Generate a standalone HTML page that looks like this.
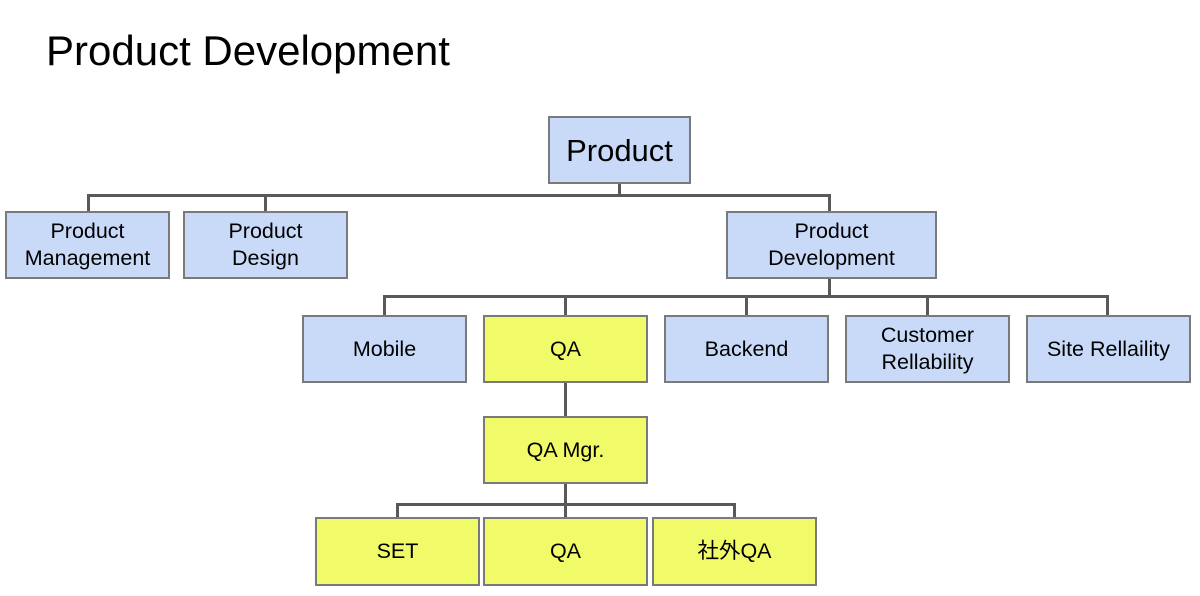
<!DOCTYPE html>
<html><head><meta charset="utf-8"><style>
body{margin:0;width:1200px;height:596px;background:#fff;position:relative;overflow:hidden;font-family:"Liberation Sans","Noto Sans CJK JP",sans-serif;}
.t{position:absolute;left:46px;top:27px;font-size:42px;color:#000;}
.b{position:absolute;box-sizing:border-box;border:2px solid #7a7a7a;display:flex;align-items:center;justify-content:center;text-align:center;font-size:21.5px;line-height:27px;color:#000;}
.bl{background:#c9daf8}.y{background:#f1fa68}
.l{position:absolute;background:#595959}
</style></head><body>
<div class="t">Product Development</div>
<div class="l" style="left:87px;top:194px;width:744px;height:3px"></div>
<div class="l" style="left:618px;top:183px;width:3px;height:12px"></div>
<div class="l" style="left:87px;top:194px;width:3px;height:17px"></div>
<div class="l" style="left:264px;top:194px;width:3px;height:17px"></div>
<div class="l" style="left:828px;top:194px;width:3px;height:17px"></div>
<div class="l" style="left:383px;top:295px;width:726px;height:3px"></div>
<div class="l" style="left:828px;top:278px;width:3px;height:18px"></div>
<div class="l" style="left:383px;top:295px;width:3px;height:20px"></div>
<div class="l" style="left:564px;top:295px;width:3px;height:20px"></div>
<div class="l" style="left:745px;top:295px;width:3px;height:20px"></div>
<div class="l" style="left:926px;top:295px;width:3px;height:20px"></div>
<div class="l" style="left:1106px;top:295px;width:3px;height:20px"></div>
<div class="l" style="left:564px;top:382px;width:3px;height:135px"></div>
<div class="l" style="left:396px;top:503px;width:340px;height:3px"></div>
<div class="l" style="left:396px;top:503px;width:3px;height:14px"></div>
<div class="l" style="left:733px;top:503px;width:3px;height:14px"></div>

<div class="b bl" style="left:548px;top:116px;width:143px;height:68px;font-size:31px">Product</div>
<div class="b bl" style="left:5px;top:211px;width:165px;height:68px">Product<br>Management</div>
<div class="b bl" style="left:183px;top:211px;width:165px;height:68px">Product<br>Design</div>
<div class="b bl" style="left:726px;top:211px;width:211px;height:68px">Product<br>Development</div>
<div class="b bl" style="left:302px;top:315px;width:165px;height:68px">Mobile</div>
<div class="b y" style="left:483px;top:315px;width:165px;height:68px">QA</div>
<div class="b bl" style="left:664px;top:315px;width:165px;height:68px">Backend</div>
<div class="b bl" style="left:845px;top:315px;width:165px;height:68px">Customer<br>Rellability</div>
<div class="b bl" style="left:1026px;top:315px;width:165px;height:68px">Site Rellaility</div>
<div class="b y" style="left:483px;top:416px;width:165px;height:68px">QA Mgr.</div>
<div class="b y" style="left:315px;top:517px;width:165px;height:69px">SET</div>
<div class="b y" style="left:483px;top:517px;width:165px;height:69px">QA</div>
<div class="b y" style="left:652px;top:517px;width:165px;height:69px">社外QA</div>
</body></html>
